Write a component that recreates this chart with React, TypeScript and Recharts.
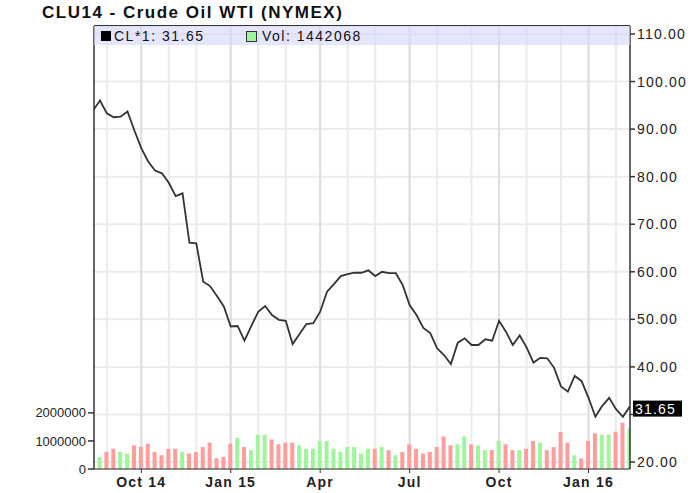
import React from "react";
import { ComposedChart, Line, Bar, Cell, XAxis, YAxis, CartesianGrid, ReferenceLine } from "recharts";

// weekly closes, first entry is the week before the window (clipped at the left edge)
const closes = [
  93.9, 96.0, 93.3, 92.5, 92.6, 93.7, 89.7, 86.0, 83.2, 81.3,
  80.7, 78.7, 75.9, 76.5, 66.1, 66.0, 57.9, 57.0, 54.9, 52.7,
  48.5, 48.6, 45.5, 48.6, 51.6, 52.8, 50.9, 49.9, 49.7, 44.8,
  46.9, 49.0, 49.2, 51.6, 55.8, 57.4, 59.1, 59.5, 59.8, 59.8,
  60.3, 59.1, 60.0, 59.7, 59.7, 57.2, 53.0, 50.9, 48.2, 47.1,
  43.9, 42.5, 40.6, 45.1, 46.0, 44.6, 44.6, 45.8, 45.5, 49.7,
  47.4, 44.6, 46.6, 44.1, 40.9, 41.9, 41.8, 39.8, 35.9, 34.8,
  38.1, 37.0, 33.5, 29.5, 31.8, 33.5, 31.1, 29.5, 31.65,
];

// weekly volume
const volumes = [
  430000, 610000, 720000, 610000, 550000, 840000, 790000, 900000, 610000, 490000,
  720000, 720000, 610000, 550000, 610000, 780000, 940000, 380000, 430000, 900000,
  1110000, 780000, 670000, 1220000, 1220000, 1050000, 880000, 940000, 940000, 840000,
  720000, 720000, 1000000, 1000000, 720000, 610000, 780000, 780000, 550000, 720000,
  720000, 780000, 670000, 490000, 610000, 880000, 720000, 550000, 610000, 780000,
  1160000, 840000, 880000, 1160000, 880000, 840000, 670000, 670000, 1000000, 880000,
  670000, 670000, 720000, 1000000, 940000, 670000, 780000, 1320000, 940000, 490000,
  380000, 1000000, 1270000, 1220000, 1220000, 1330000, 1650000, 1442068,
];

// 1 = up week (green), 0 = down week (red)
const upWeek = [
  1, 0, 0, 1, 1, 0, 0, 0, 0, 0,
  0, 0, 1, 0, 0, 0, 0, 0, 0, 0,
  1, 0, 1, 1, 1, 0, 0, 0, 0, 1,
  1, 1, 1, 1, 1, 1, 1, 1, 1, 1,
  0, 1, 0, 1, 0, 0, 0, 0, 0, 0,
  0, 0, 1, 1, 0, 1, 1, 0, 1, 0,
  0, 1, 0, 0, 1, 0, 0, 0, 0, 1,
  0, 0, 0, 1, 1, 0, 0, 1,
];

const monthStarts = [1, 6, 10, 14, 19, 23, 27, 32, 36, 40, 45, 49, 54, 58, 62, 67, 71, 75];
const quarterTicks = [6, 19, 32, 45, 58, 71];
const quarterLabels = ["Oct 14", "Jan 15", "Apr", "Jul", "Oct", "Jan 16"];
const priceTicks = [20, 30, 40, 50, 60, 70, 80, 90, 100, 110];
const volTicks = [0, 1000000, 2000000];
const lastClose = 31.65;
const lastVol = 1442068;

const data = closes.map((c, k) => ({
  i: k - 1,
  close: c,
  vol: k === 0 ? null : volumes[k - 1],
}));

const font = "'Liberation Sans', Arial, sans-serif";

const LastLabel = (props: any) => {
  const vb = props.viewBox || {};
  const x = (vb.x || 0) + (vb.width || 0) + 3;
  const y = vb.y || 0;
  return (
    <g>
      <rect x={x} y={y - 6} width={49} height={16} fill="#000" />
      <text x={x + 2} y={y + 7} fill="#fff" fontSize={14} fontFamily={font} letterSpacing={1.2}>
        {lastClose.toFixed(2)}
      </text>
    </g>
  );
};

export default function App() {
  return (
    <div style={{ position: "absolute", left: 0, top: 0, width: 700, height: 493, background: "#fff", fontFamily: font }}>
      <div
        style={{
          position: "absolute",
          left: 42,
          top: 3,
          fontSize: 17,
          fontWeight: "bold",
          letterSpacing: 1.5,
          color: "#111",
          whiteSpace: "nowrap",
        }}
      >
        CLU14 - Crude Oil WTI (NYMEX)
      </div>
      <ComposedChart
        width={700}
        height={493}
        data={data}
        margin={{ top: 26, right: 0, bottom: 0, left: 0 }}
        style={{ position: "absolute", left: 0, top: 0 }}
      >
        <CartesianGrid
          xAxisId="x"
          yAxisId="price"
          stroke="#ebebeb"
          strokeWidth={2}
          verticalValues={monthStarts}
        />
        <CartesianGrid
          xAxisId="x"
          yAxisId="price"
          stroke="#dedede"
          strokeWidth={2}
          horizontal={false}
          verticalValues={quarterTicks}
        />
        <XAxis
          xAxisId="x"
          dataKey="i"
          type="number"
          domain={[-0.87, 77.03]}
          allowDataOverflow
          ticks={quarterTicks}
          interval={0}
          tickFormatter={(v: number) => quarterLabels[quarterTicks.indexOf(v)] ?? ""}
          height={24}
          stroke="#333"
          tickSize={4}
          tickMargin={4}
          tick={{ fill: "#222", fontSize: 14, fontWeight: "bold", fontFamily: font, letterSpacing: 1.2 }}
        />
        <YAxis
          yAxisId="vol"
          orientation="left"
          width={94}
          domain={[0, 15780000]}
          ticks={volTicks}
          interval={0}
          stroke="#333"
          strokeWidth={1.5}
          tickSize={6}
          tickMargin={2}
          tick={{ fill: "#222", fontSize: 13, fontFamily: font }}
        />
        <YAxis
          yAxisId="price"
          orientation="right"
          width={70}
          domain={[18.53, 111.68]}
          allowDataOverflow
          ticks={priceTicks}
          interval={0}
          tickFormatter={(v: number) => (v === 30 ? "" : v.toFixed(2))}
          stroke="#333"
          strokeWidth={1.5}
          tickSize={5}
          tickMargin={2}
          tick={{ fill: "#222", fontSize: 14, fontFamily: font, letterSpacing: 1.2 }}
        />
        <Bar xAxisId="x" yAxisId="vol" dataKey="vol" barSize={4} isAnimationActive={false}>
          {data.map((d, k) => (
            <Cell key={k} fill={k > 0 && upWeek[k - 1] ? "#9ef59a" : "#ff9c9c"} />
          ))}
        </Bar>
        <Line
          xAxisId="x"
          yAxisId="price"
          dataKey="close"
          stroke="#333"
          strokeWidth={1.8}
          dot={false}
          isAnimationActive={false}
        />
        <ReferenceLine xAxisId="x" yAxisId="price" y={lastClose} stroke="none" label={LastLabel} />
      </ComposedChart>
      <div
        style={{
          position: "absolute",
          left: 94,
          top: 25,
          width: 536,
          height: 19,
          borderTop: "1.5px solid #333",
          background: "rgba(215,215,250,0.65)",
          fontSize: 14,
          letterSpacing: 1.5,
          color: "#111",
          whiteSpace: "nowrap",
        }}
      >
        <span style={{ position: "absolute", left: 7, top: 5, width: 10, height: 10, background: "#000" }} />
        <span style={{ position: "absolute", left: 20, top: 2 }}>CL*1: {lastClose.toFixed(2)}</span>
        <span
          style={{
            position: "absolute",
            left: 152,
            top: 5,
            width: 9,
            height: 9,
            background: "#9ef59a",
            border: "1px solid #333",
          }}
        />
        <span style={{ position: "absolute", left: 168, top: 2 }}>Vol: {lastVol}</span>
      </div>
    </div>
  );
}
